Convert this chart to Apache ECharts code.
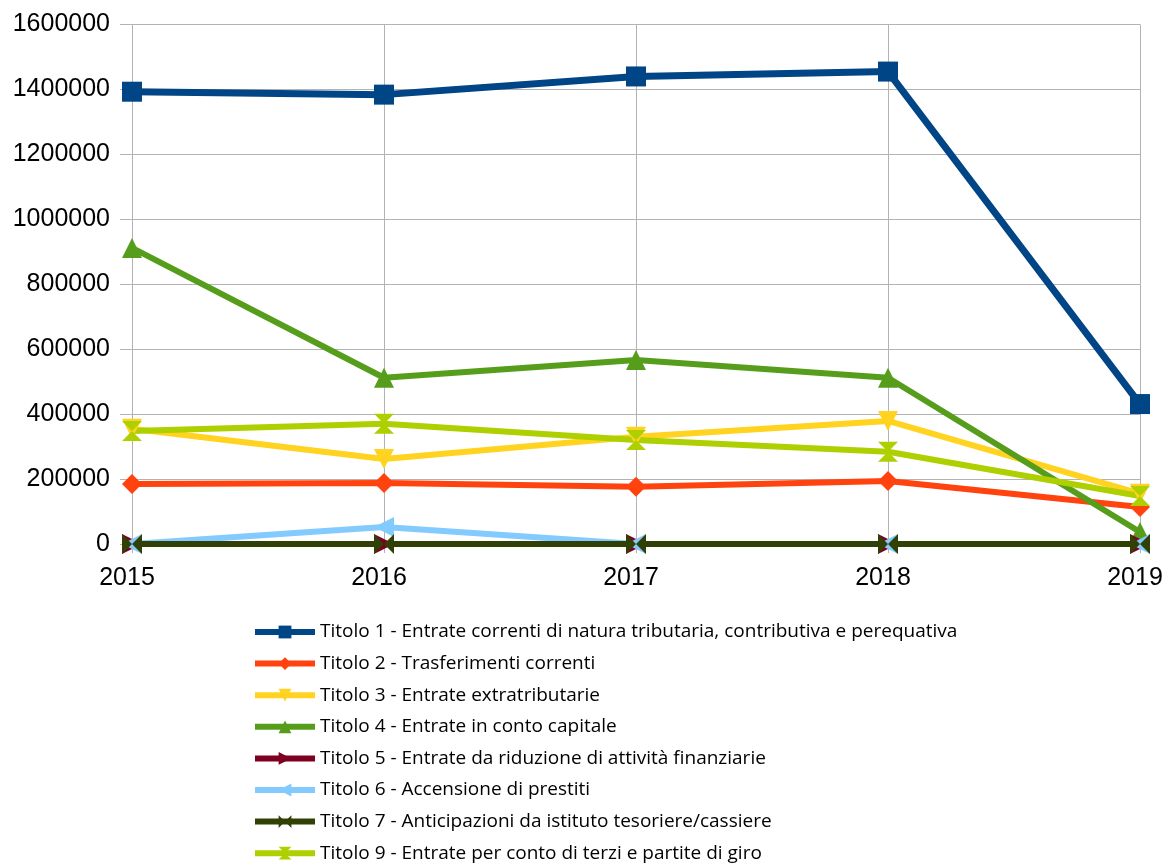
<!DOCTYPE html>
<html><head><meta charset="utf-8">
<script src="https://cdn.jsdelivr.net/npm/echarts@6/dist/echarts.min.js"></script>
<style>html,body{margin:0;padding:0;background:#fff}#c{width:1167px;height:863px}</style>
</head><body><div id="c"></div>
<script>
const years = ['2015','2016','2017','2018','2019'];
const names = [
 'Titolo 1 - Entrate correnti di natura tributaria, contributiva e perequativa',
 'Titolo 2 - Trasferimenti correnti',
 'Titolo 3 - Entrate extratributarie',
 'Titolo 4 - Entrate in conto capitale',
 'Titolo 5 - Entrate da riduzione di attività finanziarie',
 'Titolo 6 - Accensione di prestiti',
 'Titolo 7 - Anticipazioni da istituto tesoriere/cassiere',
 'Titolo 9 - Entrate per conto di terzi e partite di giro'
];
const t1 = [1393000, 1384000, 1440000, 1455000, 431000];
const t2 = [185000, 188000, 176000, 194000, 114000];
const t3 = [355000, 262000, 330000, 379000, 155000];
const t4 = [912000, 512000, 567000, 512000, 37000];
const t5 = [0, 0, 0, 0, 0];
const t6 = [0, 52000, 0, 0, 0];
const t7 = [0, 0, 0, 0, 0];
const t9 = [348000, 370000, 320000, 284000, 148000];
const yTicks = [0, 1600000, 200000];

const colors = ['#004586','#ff420e','#ffd320','#579d1c','#7e0021','#83caff','#314004','#aecf00'];
const symbols = [
 'rect','diamond',
 'path://M0,0 L10,0 L5,9 Z',
 'path://M0,9 L10,9 L5,0 Z',
 'path://M0,0 L10,5 L0,10 Z',
 'path://M10,0 L0,5 L10,10 Z',
 'path://M0,0 L5,5 L0,10 Z M10,0 L5,5 L10,10 Z',
 'path://M0,0 L10,0 L5,5 Z M0,10 L10,10 L5,5 Z'
];
const sizes = [20, 20, 20, 20, 20, 20, 20, 20];
const data = [t1,t2,t3,t4,t5,t6,t7,t9];
const series = data.map((d,i)=>({
  name: names[i], type:'line', data:d, symbol:symbols[i], symbolSize:sizes[i],
  showAllSymbol:true,
  lineStyle:{color:colors[i], width: i===0?7:6},
  itemStyle:{color:colors[i]},
  emphasis:{disabled:true}, animation:false
}));
const chart = echarts.init(document.getElementById('c'));
chart.setOption({
  animation:false,
  grid:{left:132, right:27, top:24.5, bottom:319, containLabel:false, outerBoundsMode:'none'},
  xAxis:{type:'category', data:years, boundaryGap:false,
    axisLine:{lineStyle:{color:'#b3b3b3'}},
    axisTick:{show:true, length:9, lineStyle:{color:'#b3b3b3'}},
    splitLine:{show:true, lineStyle:{color:'#b3b3b3'}},
    axisLabel:{color:'#000', fontSize:25, fontFamily:'Liberation Sans', margin:22,
      padding:[0,10,0,0]}},
  yAxis:{type:'value', min:yTicks[0], max:yTicks[1], interval:yTicks[2],
    axisLine:{show:false},
    axisTick:{show:true, length:12, lineStyle:{color:'#b3b3b3'}},
    splitLine:{lineStyle:{color:'#b3b3b3'}},
    axisLabel:{color:'#000', fontSize:25, fontFamily:'Liberation Sans', margin:22,
      formatter:(v)=>String(v)}},
  legend:{orient:'vertical', left:252, top:622, height:260, padding:0,
    itemWidth:60, itemHeight:16, itemGap:11.6, data:names,
    lineStyle:{width:6},
    textStyle:{fontSize:19, fontFamily:'Open Sans', color:'#000', lineHeight:20}},
  series: series
});
</script></body></html>
